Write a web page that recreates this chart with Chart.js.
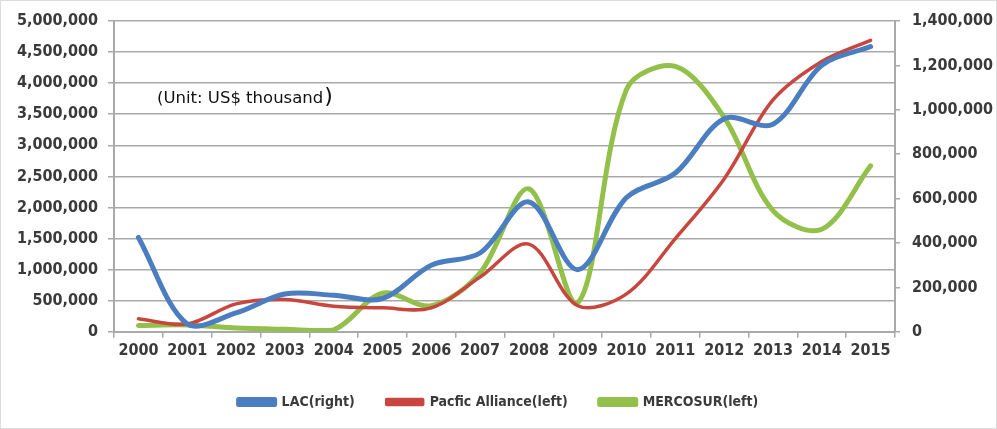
<!DOCTYPE html>
<html>
<head>
<meta charset="utf-8">
<script src="https://cdn.jsdelivr.net/npm/chart.js@4/dist/chart.umd.min.js"></script>
<style>
  html, body { margin: 0; padding: 0; background: #fff; }
  #wrap { position: relative; width: 995px; height: 427px; border: 1px solid #dcdcdc; }
</style>
</head>
<body>
<div id="wrap"><canvas id="c" width="995" height="427"></canvas></div>
<script>
const YEARS = ['2000','2001','2002','2003','2004','2005','2006','2007','2008','2009','2010','2011','2012','2013','2014','2015'];
const LAC_RIGHT = [425000, 35000, 85000, 170000, 165000, 150000, 300000, 355000, 585000, 280000, 605000, 715000, 960000, 935000, 1200000, 1285000];
const PACIFIC_LEFT = [210000, 125000, 450000, 520000, 410000, 385000, 385000, 880000, 1410000, 420000, 610000, 1500000, 2460000, 3730000, 4350000, 4690000];
const MERCOSUR_LEFT = [100000, 110000, 60000, 40000, 30000, 620000, 420000, 950000, 2300000, 465000, 3900000, 4270000, 3450000, 1950000, 1650000, 2670000];

const C_LAC = '#4a7ec0';
const C_PAC = '#c9463f';
const C_MER = '#93c04a';
const GRID = '#a9a9a9';
const TXT = '#3a3a3a';
const FONT = "'DejaVu Sans Condensed', 'Liberation Sans', sans-serif";

const fmt = v => v.toLocaleString('en-US');

// "(Unit: US$ thousand)" note inside the plot
const unitNote = {
  id: 'unitNote',
  afterDraw(chart) {
    const { ctx, chartArea } = chart;
    const txt = '(Unit: US$ thousand';
    ctx.save();
    ctx.fillStyle = '#111';
    ctx.font = "16.5px 'DejaVu Sans', sans-serif";
    ctx.textBaseline = 'middle';
    ctx.fillText(txt, chartArea.left + 43, 98);
    const w = ctx.measureText(txt).width;
    ctx.font = "22px 'DejaVu Sans', sans-serif";
    ctx.fillText(')', chartArea.left + 44 + w, 96);
    ctx.restore();
  }
};

const line = (label, data, color, width, axis) => ({
  label, data, yAxisID: axis,
  borderColor: color, backgroundColor: color,
  borderWidth: width, pointRadius: 0, tension: 0.33,
  borderCapStyle: 'round', borderJoinStyle: 'round',
});

new Chart(document.getElementById('c'), {
  type: 'line',
  data: {
    labels: YEARS,
    datasets: [
      line('LAC(right)', LAC_RIGHT, C_LAC, 5, 'y1'),
      line('Pacfic Alliance(left)', PACIFIC_LEFT, C_PAC, 3.5, 'y'),
      line('MERCOSUR(left)', MERCOSUR_LEFT, C_MER, 5, 'y'),
    ],
  },
  options: {
    responsive: false,
    animation: false,
    layout: { padding: { top: 4, left: 0, right: 0, bottom: 9 } },
    plugins: {
      tooltip: { enabled: false },
      legend: {
        position: 'bottom',
        labels: {
          color: TXT, boxWidth: 36, boxHeight: 5, padding: 32,
          font: { family: FONT, size: 14, weight: 'bold' },
        },
      },
    },
    scales: {
      x: {
        offset: true,
        grid: { drawOnChartArea: false, offset: true, color: GRID, lineWidth: 1.5, tickLength: 6 },
        border: { color: GRID, width: 2 },
        ticks: { color: TXT, padding: 3, maxRotation: 0, font: { family: FONT, size: 16, weight: 'bold' } },
      },
      y: {
        position: 'left',
        min: 0, max: 5000000,
        afterFit: s => { s.width = 113; },
        grid: { color: GRID, lineWidth: 1.5, tickLength: 6 },
        border: { color: GRID, width: 2 },
        ticks: { stepSize: 500000, color: TXT, padding: 10, callback: fmt, font: { family: FONT, size: 16, weight: 'bold', lineHeight: 1 } },
      },
      y1: {
        position: 'right',
        min: 0, max: 1400000,
        afterFit: s => { s.width = 101; },
        grid: { drawOnChartArea: false, color: GRID, lineWidth: 1.5, tickLength: 5 },
        border: { color: GRID, width: 2 },
        ticks: { stepSize: 200000, color: TXT, padding: 12, callback: fmt, font: { family: FONT, size: 16, weight: 'bold', lineHeight: 1 } },
      },
    },
  },
  plugins: [unitNote],
});
</script>
</body>
</html>
